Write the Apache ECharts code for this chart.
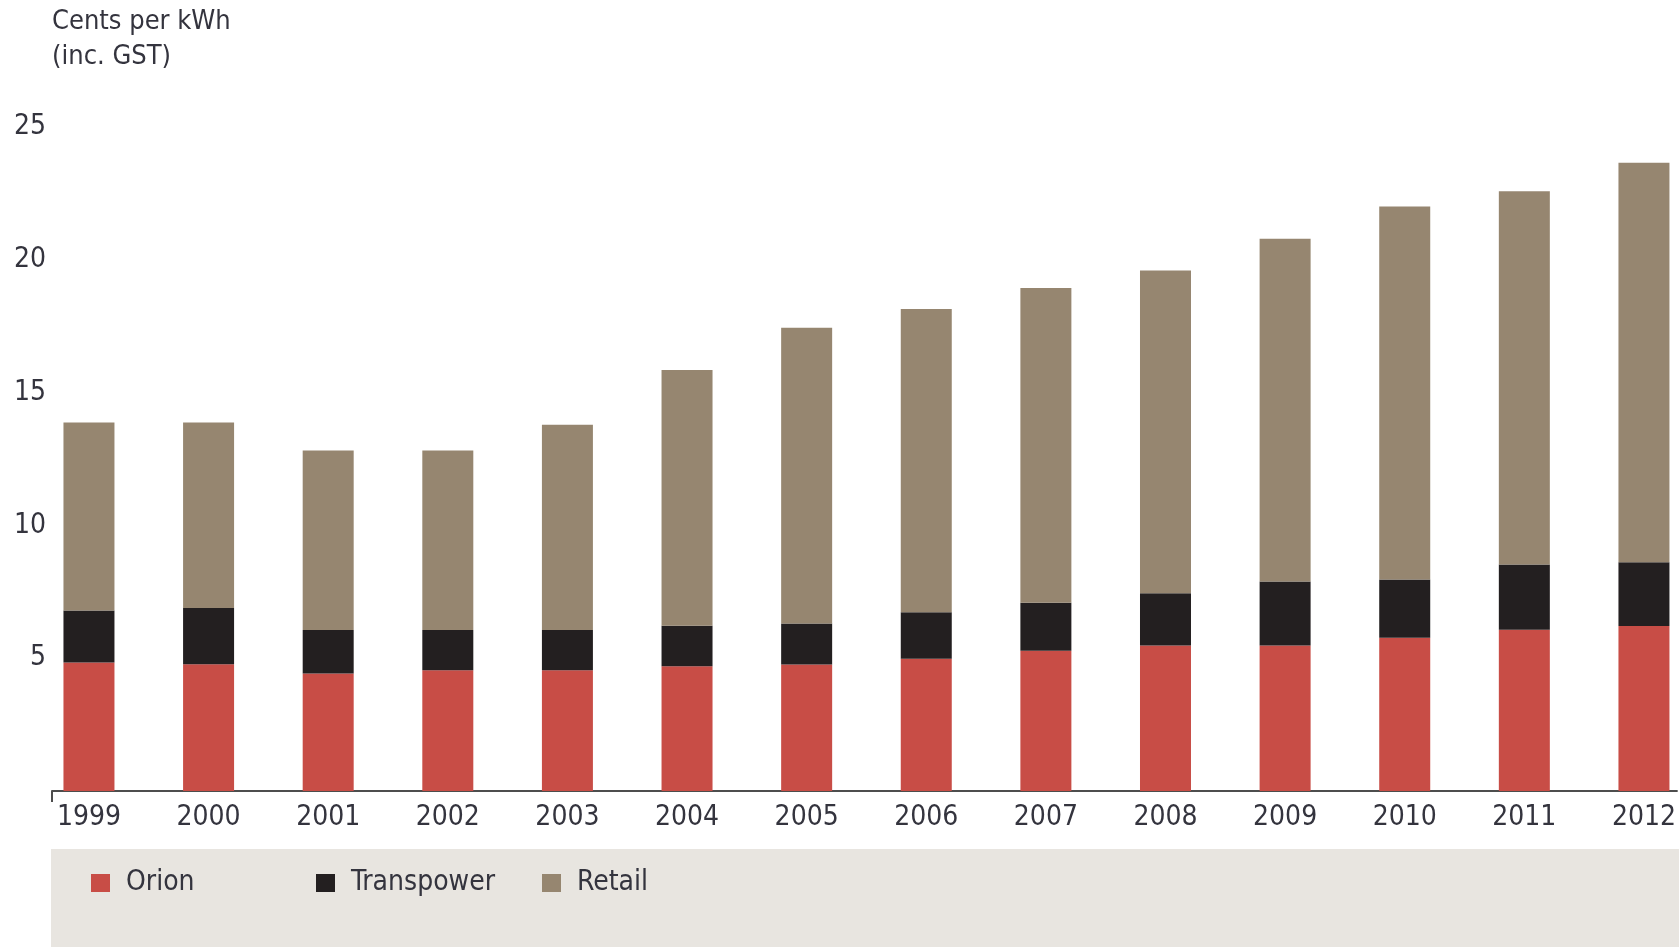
<!DOCTYPE html>
<html>
<head>
<meta charset="utf-8">
<title>Residential electricity price components</title>
<script src="https://cdn.jsdelivr.net/npm/echarts@6/dist/echarts.min.js"></script>
<style>
  html, body { margin: 0; padding: 0; background: #ffffff; }
  #chart { width: 1679px; height: 947px; }
</style>
</head>
<body>
<div id="chart"></div>
<script>
// Price build-up per year, cents per kWh (including GST)
const years = ['1999', '2000', '2001', '2002', '2003', '2004', '2005', '2006', '2007', '2008', '2009', '2010', '2011', '2012'];
const orion = [4.84, 4.77, 4.42, 4.55, 4.55, 4.70, 4.76, 4.98, 5.28, 5.48, 5.48, 5.77, 6.07, 6.21];
const transpower = [1.96, 2.12, 1.64, 1.51, 1.51, 1.52, 1.55, 1.75, 1.81, 1.97, 2.41, 2.19, 2.46, 2.40];
const retail = [7.07, 6.98, 6.76, 6.76, 7.73, 9.63, 11.13, 11.42, 11.85, 12.15, 12.90, 14.05, 14.05, 15.04];
const yTicks = [5, 10, 15, 20, 25];

const FONT = "'Liberation Sans Narrow', 'DejaVu Sans Condensed', 'Roboto', sans-serif";
const TEXT = '#34343e';
const COLORS = { Orion: '#c84d46', Transpower: '#231f20', Retail: '#968670' };

// Year positions on a numeric x scale: 0 = first year; the axis starts a little
// before the first bar and runs off past the last one.
const X_MIN = -0.309;
const X_MAX = 13.276;
const yearIndex = years.map((_, i) => i);
// value first so it is the dimension that gets stacked; the year index goes on x
const rows = arr => arr.map((v, i) => [v, i]);

const chart = echarts.init(document.getElementById('chart'), null, { renderer: 'canvas' });

function legendFor(name, left) {
  return {
    data: [name],
    left: left,
    top: 869,
    padding: 0,
    icon: 'rect',
    itemWidth: 19,
    itemHeight: 18,
    selectedMode: false,
    textStyle: { fontFamily: FONT, fontSize: 28, color: TEXT, padding: [0, 0, 0, 11] }
  };
}

function barSeries(name, values) {
  return {
    name: name,
    type: 'bar',
    stack: 'price',
    data: rows(values),
    encode: { x: 1, y: 0 },
    barWidth: 51,
    itemStyle: { color: COLORS[name] }
  };
}

const option = {
  backgroundColor: '#ffffff',
  animation: false,
  textStyle: { fontFamily: FONT },
  title: {
    text: 'Cents per kWh\n(inc. GST)',
    left: 52,
    top: 4,
    padding: 0,
    textStyle: { fontFamily: FONT, fontSize: 27, fontWeight: 'normal', color: TEXT, lineHeight: 35 }
  },
  graphic: [{
    type: 'rect',
    left: 51,
    top: 849,
    z: 0,
    shape: { width: 1628, height: 98 },
    style: { fill: '#e8e5e0' }
  }],
  legend: [
    legendFor('Orion', 91),
    legendFor('Transpower', 316),
    legendFor('Retail', 542)
  ],
  grid: { left: 52, right: 0, top: 127, bottom: 156, containLabel: false },
  xAxis: {
    type: 'value',
    min: X_MIN,
    max: X_MAX,
    axisLine: { show: true, lineStyle: { color: '#4d4d4d', width: 2 } },
    axisTick: { show: true, customValues: [X_MIN], length: 11, lineStyle: { color: '#4d4d4d', width: 2 } },
    axisLabel: {
      customValues: yearIndex,
      fontFamily: FONT, fontSize: 28, color: TEXT, margin: 13,
      formatter: v => years[Math.round(v)] || ''
    },
    splitLine: { show: false }
  },
  yAxis: {
    type: 'value',
    min: 0,
    max: 25,
    interval: 5,
    axisLine: { show: false },
    axisTick: { show: false },
    splitLine: { show: false },
    axisLabel: {
      fontFamily: FONT, fontSize: 28, color: TEXT, margin: 6, padding: [5, 0, 0, 0],
      formatter: v => (yTicks.indexOf(v) >= 0 ? String(v) : '')
    }
  },
  series: [
    barSeries('Orion', orion),
    barSeries('Transpower', transpower),
    barSeries('Retail', retail)
  ]
};

chart.setOption(option);
</script>
</body>
</html>
